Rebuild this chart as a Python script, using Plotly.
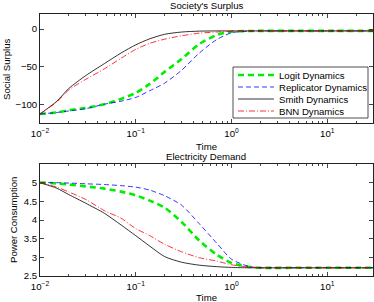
import plotly.graph_objects as go

# time samples (shared)
t = [0.01, 0.015, 0.02, 0.03, 0.047, 0.07, 0.1, 0.14, 0.2, 0.3, 0.46, 0.7, 1.0, 1.5, 2.0, 5.0, 10.0, 30.0]

# Society's surplus
surplus_logit = [-113, -111, -108, -105, -100, -93, -85, -73, -57, -40, -20, -8, -3.5, -2.6, -2.5, -2.5, -2.5, -2.5]
surplus_repl = [-113, -111, -109, -106, -100, -96, -91, -82, -72, -55, -32, -14, -5, -3, -2.5, -2.5, -2.5, -2.5]
surplus_smith = [-113, -96, -79, -62, -46, -32, -21, -13, -7, -4, -2.8, -2.5, -2.5, -2.5, -2.5, -2.5, -2.5, -2.5]
surplus_bnn = [-113, -97, -81, -67, -53, -39, -27, -19, -13.5, -9, -5.5, -4, -3, -2.6, -2.5, -2.5, -2.5, -2.5]

# Electricity demand
power_logit = [5.0, 4.98, 4.95, 4.90, 4.84, 4.76, 4.66, 4.52, 4.33, 3.95, 3.45, 3.07, 2.85, 2.75, 2.72, 2.72, 2.72, 2.72]
power_repl = [5.0, 5.0, 4.99, 4.97, 4.95, 4.92, 4.88, 4.80, 4.65, 4.40, 3.90, 3.38, 2.95, 2.76, 2.72, 2.72, 2.72, 2.72]
power_smith = [5.0, 4.85, 4.68, 4.45, 4.18, 3.87, 3.58, 3.30, 3.02, 2.87, 2.79, 2.75, 2.73, 2.72, 2.72, 2.72, 2.72, 2.72]
power_bnn = [5.0, 4.88, 4.75, 4.55, 4.25, 4.05, 3.77, 3.58, 3.35, 3.15, 2.99, 2.90, 2.80, 2.74, 2.72, 2.72, 2.72, 2.72]

names = ["Logit Dynamics", "Replicator Dynamics", "Smith Dynamics", "BNN Dynamics"]
tick_labels = ["10<sup>−2</sup>", "10<sup>−1</sup>", "10<sup>0</sup>", "10<sup>1</sup>"]
decades = [0.01, 0.1, 1, 10]

styles = [
    dict(color="#00ee00", width=2.6, dash="6px,4px"),
    dict(color="#0000ff", width=0.8, dash="5px,3px"),
    dict(color="#000000", width=0.8, dash="solid"),
    dict(color="#ff0000", width=0.8, dash="6px,2px,1px,2px"),
]

fig = go.Figure()
top = [surplus_logit, surplus_repl, surplus_smith, surplus_bnn]
bot = [power_logit, power_repl, power_smith, power_bnn]
for i in range(4):
    fig.add_trace(go.Scatter(x=t, y=top[i], mode="lines", name=names[i],
                             line=dict(shape="spline", smoothing=0.7, **styles[i]),
                             xaxis="x", yaxis="y", showlegend=False))
for i in range(4):
    fig.add_trace(go.Scatter(x=t, y=bot[i], mode="lines", name=names[i],
                             line=dict(shape="spline", smoothing=0.7, **styles[i]),
                             xaxis="x2", yaxis="y2", showlegend=False))

fnt = dict(family="Liberation Sans, Arial, sans-serif", size=9.6, color="#000")
minor_vals = [d * k for d in decades for k in range(2, 10) if d * k <= 30]
xcommon = dict(type="log", range=[-2, 1.477], tickvals=decades, ticktext=tick_labels, ticks="inside", ticklen=4,
               showline=True, mirror="allticks", linecolor="#222", linewidth=0.8, showgrid=False, zeroline=False,
               tickfont=fnt, domain=[40/374, 373/374], automargin=False, tickcolor="#444", tickwidth=0.7,
               ticklabelstandoff=2,
               minor=dict(ticks="inside", ticklen=2, tickcolor="#444", tickwidth=0.6, tickvals=minor_vals, showgrid=False))
ycommon = dict(ticks="inside", ticklen=4, showline=True, mirror="allticks", linecolor="#222", linewidth=0.8,
               showgrid=False, zeroline=False, tickfont=fnt, automargin=False, tickcolor="#444", tickwidth=0.7)

# manual legend in the top panel
lx0, lx1, ly0, ly1 = 233/374, 368/374, 1-67/302, 1-118/302
shapes = [dict(type="rect", xref="paper", yref="paper", x0=lx0, x1=lx1, y0=ly0, y1=ly1,
               line=dict(color="#222", width=0.8), fillcolor="white", layer="above")]
annotations = []
for i in range(4):
    yy = 1 - (75 + 12 * i) / 302
    st = styles[i]
    shapes.append(dict(type="line", xref="paper", yref="paper", x0=238/374, x1=274/374, y0=yy, y1=yy,
                       line=dict(color=st["color"], width=st["width"], dash=st["dash"]), layer="above"))
    annotations.append(dict(text=names[i], x=277/374, y=yy, xref="paper", yref="paper", xanchor="left",
                            yanchor="middle", showarrow=False, font=fnt))

def lab(text, x, y, angle=0):
    return dict(text=text, x=x/374, y=1-y/302, xref="paper", yref="paper", xanchor="center", yanchor="middle",
                showarrow=False, font=fnt, textangle=angle)

annotations += [
    lab("Society's Surplus", 206, 6),
    lab("Time", 206, 146),
    lab("Social Surplus", 7, 69, -90),
    lab("Electricity Demand", 206, 156),
    lab("Time", 206, 297),
    lab("Power Consumption", 14, 220, -90),
]

fig.update_layout(
    width=374, height=302, margin=dict(l=0, r=0, t=0, b=0),
    plot_bgcolor="white", paper_bgcolor="white", font=fnt, showlegend=False,
    xaxis=dict(xcommon, anchor="y"),
    yaxis=dict(ycommon, domain=[1-123/302, 1-14/302], range=[-125, 20], tickvals=[-100, -50, 0], anchor="x"),
    xaxis2=dict(xcommon, anchor="y2"),
    yaxis2=dict(ycommon, domain=[1-276/302, 1-164/302], range=[2.5, 5.5], tickvals=[2.5, 3, 3.5, 4, 4.5, 5],
                ticktext=["2.5", "3", "3.5", "4", "4.5", "5"], anchor="x2"),
    shapes=shapes, annotations=annotations,
)

fig.write_html("out.html", config={"displayModeBar": False},
               post_script="document.body.style.margin='0px';")
